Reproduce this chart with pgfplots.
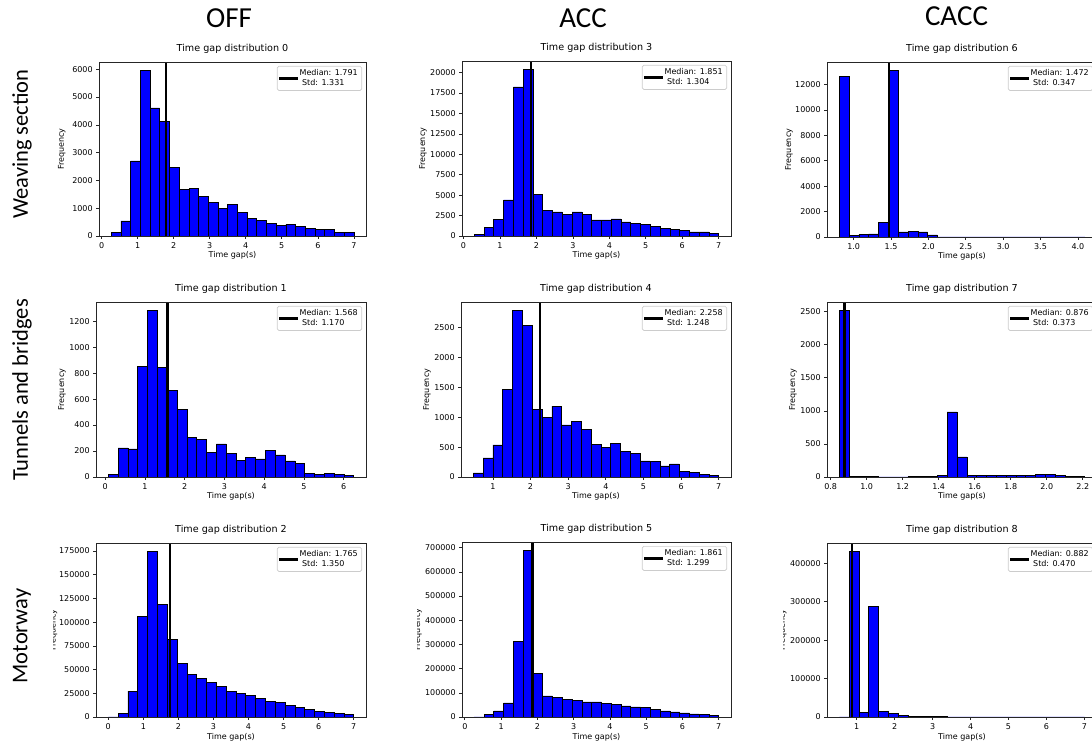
\documentclass[border=0pt]{standalone}
\usepackage{fontspec}
\setmainfont{DejaVu Sans}
\newfontfamily\hdr{Carlito}
\usepackage{pgfplots}
\pgfplotsset{compat=1.18}
\pgfplotsset{
  hist/.style={
    scale only axis, anchor=south west,
    axis on top,
    ymin=0,
    tick pos=left, tick align=outside,
    major tick length=2.8pt,
    tick style={black!85, line width=0.6pt},
    axis line style={black!85, line width=0.6pt},
    /pgf/number format/assume math mode=true,
    scaled ticks=false,
    tick label style={font=\fontsize{8}{9.6}\selectfont},
    yticklabel style={/pgf/number format/fixed, /pgf/number format/1000 sep={}},
    title style={font=\fontsize{9.6}{11.5}\selectfont, at={(axis description cs:0.5,1)}, anchor=base, yshift=4.8pt},
    xlabel={Time gap(s)}, ylabel={Frequency},
    label style={font=\fontsize{8}{9.6}\selectfont},
    xlabel style={at={(axis description cs:0.5,0)}, anchor=base, yshift=-22pt},
    legend style={at={(axis description cs:1,1)}, anchor=north east, xshift=-4pt, yshift=-4pt,
      draw=black!20, line width=0.6pt, rounded corners=1.6pt, fill=white,
      font=\fontsize{8}{9.6}\selectfont, inner xsep=2pt, inner ysep=1.5pt,
      cells={anchor=west, align=left}},
    legend image code/.code={\draw[#1, line cap=rect] (0pt,0pt) -- (16pt,0pt);},
  },
  bars/.style={ybar interval, fill=blue, draw=black, line width=0.6pt, forget plot},
  med/.style={black, line width=2.4pt},
  onedec/.style={xticklabel style={/pgf/number format/fixed, /pgf/number format/fixed zerofill, /pgf/number format/precision=1}},
}
\begin{document}
\begin{tikzpicture}
% ---------- Row 1 ----------
\begin{axis}[hist, at={(99pt,508pt)}, width=267pt, height=174pt,
  xmin=-0.071, xmax=7.337, ymax=6262,
  xtick={0,...,7}, ytick={0,1000,...,6000},
  title={Time gap distribution 0},
  ylabel style={at={(axis description cs:-0.1311,0.5)}, anchor=base}]
\addplot[bars] coordinates {(0.266,130) (0.535,540) (0.805,2706) (1.074,5964) (1.344,4611) (1.613,4132) (1.882,2479) (2.152,1665) (2.421,1700) (2.691,1425) (2.960,1210) (3.229,1006) (3.499,1126) (3.768,862) (4.038,623) (4.307,563) (4.576,467) (4.846,371) (5.115,431) (5.385,335) (5.654,275) (5.923,228) (6.193,251) (6.462,132) (6.732,132) (7.0,132)};
\addplot[med] coordinates {(1.791,0) (1.791,6262)};
\addlegendentry{Median: 1.791\\\ Std: 1.331}
\end{axis}
\begin{axis}[hist, at={(462pt,508pt)}, width=269pt, height=175pt,
  xmin=-0.036, xmax=7.335, ymax=21428,
  xtick={0,...,7}, ytick={0,2500,...,20000},
  title={Time gap distribution 3},
  ylabel style={at={(axis description cs:-0.1375,0.5)}, anchor=base}]
\addplot[bars] coordinates {(0.299,204) (0.567,1061) (0.835,2041) (1.103,4408) (1.371,18245) (1.639,20408) (1.907,5102) (2.175,3143) (2.443,2939) (2.711,2653) (2.979,2939) (3.247,2653) (3.515,1959) (3.783,1959) (4.051,2082) (4.319,1714) (4.587,1551) (4.855,1388) (5.123,1184) (5.391,939) (5.659,816) (5.927,653) (6.195,490) (6.463,490) (6.731,327) (7.0,327)};
\addplot[med] coordinates {(1.851,0) (1.851,21428)};
\addlegendentry{Median: 1.851\\\ Std: 1.304}
\end{axis}
\begin{axis}[hist, onedec, at={(827pt,507pt)}, width=270pt, height=175pt,
  xmin=0.643, xmax=4.256, ymax=13780,
  xtick={1.0,1.5,2.0,2.5,3.0,3.5,4.0}, ytick={0,2000,...,12000},
  title={Time gap distribution 6},
  ylabel style={at={(axis description cs:-0.1333,0.5)}, anchor=base}]
\addplot[bars] coordinates {(0.807,12651) (0.938,130) (1.070,200) (1.201,250) (1.333,1155) (1.464,13124) (1.595,394) (1.727,446) (1.858,394) (1.990,157) (2.121,0) (2.252,0) (2.384,0) (2.515,0) (2.647,0) (2.778,0) (2.909,0) (3.041,0) (3.172,0) (3.304,0) (3.435,0) (3.566,0) (3.698,0) (3.829,0) (3.961,3) (4.092,3)};
\addplot[med] coordinates {(1.472,0) (1.472,13780)};
\addlegendentry{Median: 1.472\\\ Std: 0.347}
\end{axis}
% ---------- Row 2 ----------
\begin{axis}[hist, at={(96pt,267pt)}, width=270pt, height=175pt,
  xmin=-0.233, xmax=6.561, ymax=1348,
  xtick={0,...,6}, ytick={0,200,...,1200},
  title={Time gap distribution 1},
  ylabel style={at={(axis description cs:-0.1185,0.5)}, anchor=base}]
\addplot[bars] coordinates {(0.076,18) (0.323,224) (0.570,216) (0.817,852) (1.064,1284) (1.311,844) (1.558,664) (1.805,522) (2.052,304) (2.299,291) (2.546,188) (2.793,255) (3.040,183) (3.288,126) (3.535,149) (3.782,139) (4.029,203) (4.276,170) (4.523,124) (4.770,105) (5.017,26) (5.264,18) (5.511,26) (5.758,18) (6.005,10) (6.252,10)};
\addplot[med] coordinates {(1.568,0) (1.568,1348)};
\addlegendentry{Median: 1.568\\\ Std: 1.170}
\end{axis}
\begin{axis}[hist, at={(461pt,267pt)}, width=270pt, height=175pt,
  xmin=0.154, xmax=7.326, ymax=2931,
  xtick={1,...,7}, ytick={0,500,...,2500},
  title={Time gap distribution 4},
  ylabel style={at={(axis description cs:-0.1185,0.5)}, anchor=base}]
\addplot[bars] coordinates {(0.480,67) (0.741,319) (1.002,537) (1.262,1471) (1.523,2791) (1.784,2539) (2.045,1130) (2.306,996) (2.566,1186) (2.827,872) (3.088,928) (3.349,794) (3.610,548) (3.870,498) (4.131,565) (4.392,431) (4.653,391) (4.914,268) (5.174,257) (5.435,185) (5.696,218) (5.957,95) (6.218,73) (6.478,45) (6.739,28) (7.0,28)};
\addplot[med] coordinates {(2.258,0) (2.258,2931)};
\addlegendentry{Median: 2.258\\\ Std: 1.248}
\end{axis}
\begin{axis}[hist, onedec, at={(827pt,267pt)}, width=270pt, height=175pt,
  xmin=0.780, xmax=2.279, ymax=2646,
  xtick={0.8,1.0,1.2,1.4,1.6,1.8,2.0,2.2}, ytick={0,500,...,2500},
  title={Time gap distribution 7},
  ylabel style={at={(axis description cs:-0.1185,0.5)}, anchor=base}]
\addplot[bars] coordinates {(0.8480,2520) (0.9025,10) (0.9570,10) (1.0115,8) (1.0660,0) (1.1205,0) (1.1750,0) (1.2295,5) (1.2840,5) (1.3385,8) (1.3930,20) (1.4475,985) (1.5020,303) (1.5565,20) (1.6110,30) (1.6655,20) (1.7200,30) (1.7745,30) (1.8290,20) (1.8835,20) (1.9380,40) (1.9925,40) (2.0470,30) (2.1015,10) (2.1560,10) (2.2105,10)};
\addplot[med] coordinates {(0.876,0) (0.876,2646)};
\addlegendentry{Median: 0.876\\\ Std: 0.373}
\end{axis}
% ---------- Row 3 ----------
\begin{axis}[hist, at={(96pt,27pt)}, width=270pt, height=174pt,
  xmin=-0.35, xmax=7.35, ymax=183474,
  xtick={0,...,7}, ytick={0,25000,...,175000},
  title={Time gap distribution 2},
  ylabel style={at={(axis description cs:-0.150,0.5)}, anchor=base}]
\addplot[bars] coordinates {(0,0) (0.28,3860) (0.56,27368) (0.84,105965) (1.12,174737) (1.40,118596) (1.68,81754) (1.96,56140) (2.24,44561) (2.52,41052) (2.80,36140) (3.08,32632) (3.36,26667) (3.64,24912) (3.92,22456) (4.20,20000) (4.48,16491) (4.76,15088) (5.04,12632) (5.32,10526) (5.60,8421) (5.88,6316) (6.16,4912) (6.44,3860) (6.72,3158) (7.0,3158)};
\addplot[med] coordinates {(1.765,0) (1.765,183474)};
\addlegendentry{Median: 1.765\\\ Std: 1.350}
\end{axis}
\begin{axis}[hist, at={(462pt,27pt)}, width=269pt, height=175pt,
  xmin=-0.077, xmax=7.337, ymax=723345,
  xtick={0,...,7}, ytick={0,100000,...,700000},
  title={Time gap distribution 5},
  ylabel style={at={(axis description cs:-0.156,0.5)}, anchor=base}]
\addplot[bars] coordinates {(0.260,500) (0.530,9700) (0.799,24900) (1.069,58100) (1.338,312600) (1.608,688900) (1.878,179800) (2.147,87100) (2.417,81600) (2.686,73300) (2.956,69200) (3.226,62200) (3.495,62200) (3.765,56700) (4.034,52600) (4.304,45600) (4.574,41500) (4.843,38700) (5.113,31800) (5.382,24900) (5.652,20700) (5.922,16600) (6.191,12400) (6.461,9700) (6.730,5500) (7.0,5500)};
\addplot[med] coordinates {(1.861,0) (1.861,723345)};
\addlegendentry{Median: 1.861\\\ Std: 1.299}
\end{axis}
\begin{axis}[hist, at={(827pt,27pt)}, width=270pt, height=174pt,
  xmin=0.2165, xmax=7.3335, ymax=452550,
  xtick={1,...,7}, ytick={0,100000,...,400000},
  title={Time gap distribution 8},
  ylabel style={at={(axis description cs:-0.1556,0.5)}, anchor=base}]
\addplot[bars] coordinates {(0.540,300) (0.799,431000) (1.058,11300) (1.316,287000) (1.575,14000) (1.834,9500) (2.093,3500) (2.352,1500) (2.610,1200) (2.869,1000) (3.128,900) (3.387,50) (3.646,50) (3.904,50) (4.163,50) (4.422,50) (4.681,50) (4.940,50) (5.198,50) (5.457,50) (5.716,50) (5.975,50) (6.234,50) (6.492,50) (6.751,50) (7.010,50)};
\addplot[med] coordinates {(0.882,0) (0.882,452550)};
\addlegendentry{Median: 0.882\\\ Std: 0.470}
\end{axis}
% cropped y labels of the bottom row
\fill[white] (38pt,80pt) rectangle (53pt,150pt);
\fill[white] (400pt,80pt) rectangle (417pt,150pt);
\fill[white] (768pt,80pt) rectangle (783pt,150pt);
% headers
\node[font=\hdr\fontsize{29}{34}\selectfont] at (229pt,725.5pt) {OFF};
\node[font=\hdr\fontsize{29}{34}\selectfont] at (583pt,725.5pt) {ACC};
\node[font=\hdr\fontsize{29}{34}\selectfont] at (956.5pt,728pt) {CACC};
\node[rotate=90, font=\hdr\fontsize{22.5}{27}\selectfont] at (22pt,600pt) {Weaving section};
\node[rotate=90, font=\hdr\fontsize{22.5}{27}\selectfont] at (22pt,354pt) {Tunnels and bridges};
\node[rotate=90, font=\hdr\fontsize{22.5}{27}\selectfont] at (22pt,108pt) {Motorway};
\pgfresetboundingbox
\path[use as bounding box] (0pt,0pt) rectangle (1092pt,744pt);
\end{tikzpicture}
\end{document}
